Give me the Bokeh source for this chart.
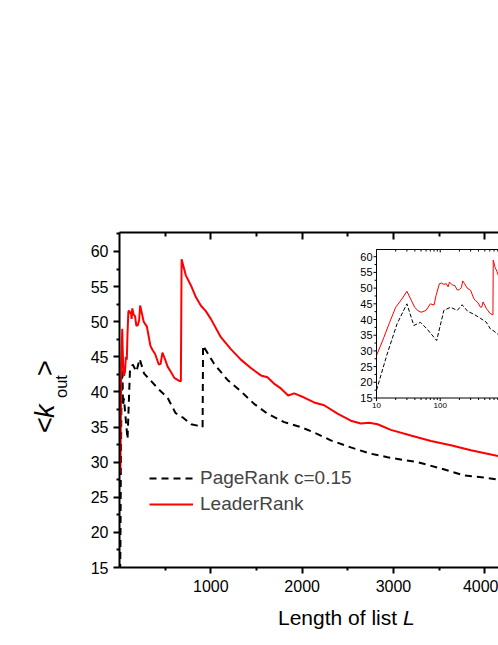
import math
from bokeh.plotting import figure
from bokeh.models import (Range1d, FixedTicker, LinearAxis, LogScale, Legend, LegendItem, Div)
from bokeh.layouts import column
from bokeh.core.properties import value
from bokeh.embed import file_html
from bokeh.resources import INLINE

# ---------------- data ----------------
lr_L = [10, 13, 16, 20, 25, 30, 35, 40, 45, 50, 60, 70, 80, 86, 97, 105, 114, 125, 133, 140,
        155, 170, 185, 200, 215, 226, 240, 265, 300, 338, 360, 390, 430, 450, 470, 500, 527,
        565, 600, 650, 672, 680, 726, 781, 836, 890, 945, 1000, 1110, 1219, 1329, 1438, 1548,
        1620, 1700, 1767, 1847, 1913, 2022, 2131, 2241, 2387, 2533, 2643, 2734, 2826, 2971,
        3190, 3410, 3629, 3848, 4067, 4250]
lr_k = [28.5, 34.2, 39.0, 43.9, 46.5, 49.0, 46.2, 43.8, 42.8, 42.3, 42.9, 45.0, 44.6, 47.6,
        51.4, 51.6, 51.2, 51.4, 50.4, 51.9, 51.0, 50.8, 49.4, 49.5, 50.2, 52.3, 51.5, 50.0,
        49.3, 46.6, 46.0, 45.4, 43.9, 44.0, 45.6, 44.6, 43.6, 42.8, 42.0, 41.6, 41.5, 58.9,
        56.6, 55.2, 53.5, 52.3, 51.5, 50.4, 47.8, 46.1, 44.6, 43.4, 42.35, 42.1, 41.1, 40.5,
        39.5, 39.8, 39.2, 38.5, 38.1, 36.9, 35.9, 35.5, 35.6, 35.4, 34.6, 33.8, 33.0, 32.4,
        31.7, 31.1, 30.6]

pr_L = [7, 10, 14.7, 21, 30, 38.5, 49, 62, 88, 114, 145, 185, 221, 270, 343, 434, 526, 613,
        700, 785, 854, 910, 915, 1036, 1183, 1329, 1474, 1621, 1803, 1986, 2169, 2314, 2533,
        2752, 2935, 3117, 3264, 3519, 3774, 3993, 4250]
pr_k = [14.5, 17.5, 29.0, 38.6, 45.0, 38.1, 39.1, 37.0, 33.3, 42.9, 43.9, 42.9, 44.7, 42.6,
        41.6, 40.3, 39.2, 37.0, 36.3, 35.4, 35.2, 35.0, 46.6, 44.0, 41.7, 40.1, 38.3, 36.9,
        35.7, 35.0, 34.0, 33.1, 32.1, 31.2, 30.7, 30.3, 30.0, 29.1, 28.1, 27.8, 27.3]

x_major = [1000, 2000, 3000, 4000]
x_minor = [500, 1500, 2500, 3500]
y_major = [15, 20, 25, 30, 35, 40, 45, 50, 55, 60]
y_minor = [17.5, 22.5, 27.5, 32.5, 37.5, 42.5, 47.5, 52.5, 57.5, 62.5]

inset_x_major = [10, 100]
inset_x_minor = [20, 30, 40, 50, 60, 70, 80, 90, 200, 300, 400, 500, 600, 700, 800]
inset_y_major = [15, 20, 25, 30, 35, 40, 45, 50, 55, 60]
inset_y_minor = [17.5, 22.5, 27.5, 32.5, 37.5, 42.5, 47.5, 52.5, 57.5]

legend_labels = ["PageRank c=0.15", "LeaderRank"]
x_title = ["Length of list ", "L"]
y_title = ["&lt;", "k", "out", "&gt;"]

FONT = "Liberation Sans"

# ---------------- layout constants (pixels) ----------------
W, H = 498, 645
F_L, F_R, F_T, F_B = 119, 498, 232, 567          # main frame
I_L, I_R, I_T, I_B = 376, 498, 249, 397.5        # inset frame
X0, X1 = 0, 4150
Y0, Y1 = 15, 62.7
IX0, IX1 = 10, 822
IY0, IY1 = 15, 62.3

# ---------------- main plot ----------------
p = figure(width=W, height=H, x_range=Range1d(X0, X1), y_range=Range1d(Y0, Y1),
           output_backend="svg", toolbar_location=None,
           min_border_left=F_L, min_border_right=W - F_R, min_border_top=F_T,
           min_border_bottom=H - F_B, x_axis_location=None, y_axis_location=None)
p.outline_line_color = None
p.grid.visible = False
p.background_fill_color = "white"
p.border_fill_color = "white"


def style_axis(ax, tin, tout, mtin, mtout, lw, fs):
    ax.axis_line_width = lw
    ax.major_tick_line_width = lw
    ax.minor_tick_line_width = lw
    ax.major_tick_in = tin
    ax.major_tick_out = tout
    ax.minor_tick_in = mtin
    ax.minor_tick_out = mtout
    ax.major_label_text_font = FONT
    ax.major_label_text_font_size = fs
    ax.major_label_text_color = "black"


left = LinearAxis(ticker=FixedTicker(ticks=y_major, minor_ticks=y_minor))
style_axis(left, 0, 6, 0, 3, 2, "16px")
left.major_label_standoff = 5
p.add_layout(left, "left")

bottom = LinearAxis(ticker=FixedTicker(ticks=x_major, minor_ticks=x_minor))
style_axis(bottom, 0, 6, 0, 3, 2, "16px")
bottom.major_label_standoff = 6
p.add_layout(bottom, "below")

top = LinearAxis(ticker=FixedTicker(ticks=x_major, minor_ticks=x_minor))
style_axis(top, 7, 0, 4, 0, 2, "16px")
top.major_label_text_color = None
p.add_layout(top, "above")

r_pr = p.line(pr_L, pr_k, line_color="black", line_width=2, line_dash="7 5")
r_lr = p.line(lr_L, lr_k, line_color="#ff0000", line_width=2)

legend = Legend(items=[LegendItem(label=legend_labels[0], renderers=[r_pr]),
                       LegendItem(label=legend_labels[1], renderers=[r_lr])],
                location=(30, 52), border_line_color=None, background_fill_alpha=0,
                label_text_font=FONT, label_text_font_size="19px",
                glyph_width=44, glyph_height=20, label_height=20, label_standoff=7,
                spacing=4, padding=0, margin=0)
p.add_layout(legend)

# ---------------- inset (drawn on its own scales inside the main frame) ----------------
dpp = (math.log10(IX1) - math.log10(IX0)) / (I_R - I_L)
upp = (IY1 - IY0) / (I_B - I_T)
p.extra_x_ranges = {"ix": Range1d(10 ** (math.log10(IX0) - (I_L - F_L) * dpp),
                                  10 ** (math.log10(IX1) + (F_R - I_R) * dpp))}
p.extra_x_scales = {"ix": LogScale()}
p.extra_y_ranges = {"iy": Range1d(IY0 - (F_B - I_B) * upp, IY1 + (I_T - F_T) * upp)}
ins = dict(x_range_name="ix", y_range_name="iy")

p.quad(left=[IX0], right=[IX1], bottom=[IY0], top=[IY1], fill_color="white",
       line_color=None, **ins)

in_pr = [(l, k) for l, k in zip(pr_L, pr_k) if IX0 <= l <= 1000]
in_lr = [(l, k) for l, k in zip(lr_L, lr_k) if IX0 <= l <= 1000]
p.line([a for a, _ in in_pr], [b for _, b in in_pr], line_color="black", line_width=1,
       line_dash="4 2", **ins)
p.line([a for a, _ in in_lr], [b for _, b in in_lr], line_color="#ff0000", line_width=1, **ins)

p.segment(x0=[IX0, IX0, IX0], y0=[IY0, IY0, IY1], x1=[IX0, IX1, IX1], y1=[IY1, IY0, IY1],
          line_color="black", line_width=1, **ins)

def ticks(xs, ys, angle, length):
    p.ray(x=xs, y=ys, length=length, angle=angle, length_units="screen",
          line_color="black", line_width=1, **ins)

ticks([IX0] * len(inset_y_major), inset_y_major, math.pi, 3)
ticks([IX0] * len(inset_y_minor), inset_y_minor, math.pi, 2)
ticks(inset_x_major, [IY0] * len(inset_x_major), -math.pi / 2, 3)
ticks(inset_x_minor, [IY0] * len(inset_x_minor), -math.pi / 2, 2)
ticks(inset_x_major, [IY1] * len(inset_x_major), -math.pi / 2, 3)
ticks(inset_x_minor, [IY1] * len(inset_x_minor), -math.pi / 2, 2)

p.text(x=[IX0] * len(inset_y_major), y=inset_y_major, text=[str(v) for v in inset_y_major],
       x_offset=-4, text_align="right", text_baseline="middle",
       text_font=value(FONT), text_font_size="11px", text_color="black", **ins)
p.text(x=inset_x_major, y=[IY0] * len(inset_x_major), text=[str(v) for v in inset_x_major],
       y_offset=5, text_align="center", text_baseline="top",
       text_font=value(FONT), text_font_size="8px", text_color="black", **ins)

# ---------------- axis titles as an HTML overlay ----------------
ASC = 0.8465  # baseline position (fraction of font size) for line-height 1


def piece(base_x, start_y, text, size, italic=False, rotate=False):
    st = ("position:absolute;font-family:'Liberation Sans';line-height:1;"
          f"white-space:nowrap;color:black;font-size:{size}px;")
    if italic:
        st += "font-style:italic;"
    if rotate:
        st += (f"left:{base_x - ASC * size:.1f}px;top:{start_y}px;"
               "transform:rotate(-90deg);transform-origin:0 0;")
    else:
        st += f"left:{start_y}px;top:{base_x - ASC * size:.1f}px;"
    return f'<span style="{st}">{text}</span>'


html = "".join([
    piece(55, 433, y_title[0], 27, rotate=True),
    piece(55, 418, y_title[1], 27, italic=True, rotate=True),
    piece(67, 398, y_title[2], 16.5, rotate=True),
    piece(55, 376, y_title[3], 27, rotate=True),
    piece(625, 278, x_title[0], 21),
    piece(625, 403, x_title[1], 21, italic=True),
])

titles = Div(text=html, width=W, height=H, margin=(-H, 0, 0, 0),
             styles={"position": "relative", "pointer-events": "none"})

layout = column(p, titles, spacing=0)
open("out.html", "w").write(file_html(layout, INLINE))
